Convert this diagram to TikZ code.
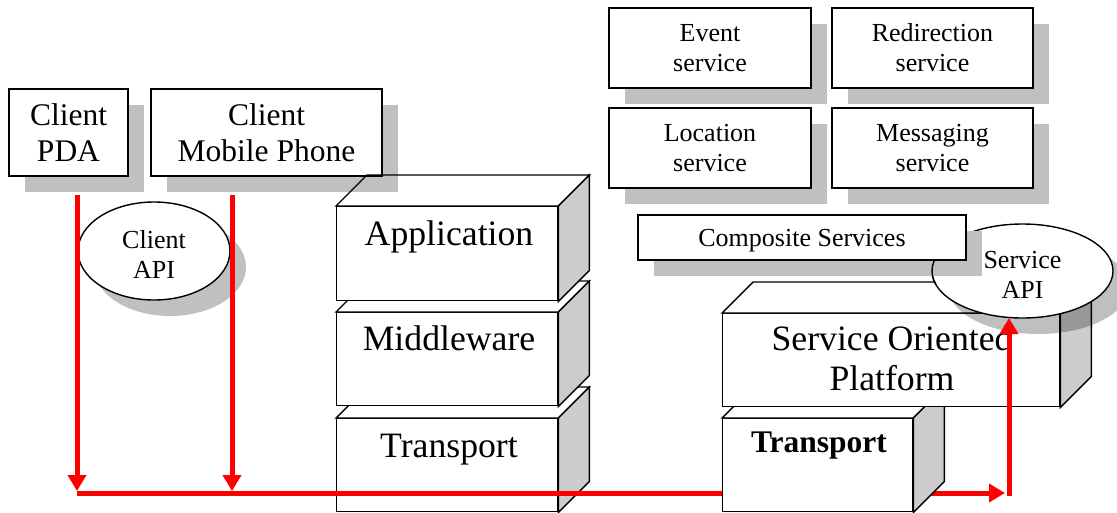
\documentclass[tikz,border=0pt]{standalone}
\usepackage{fontspec}
\setmainfont{Liberation Serif}
\usetikzlibrary{shapes.geometric, shadows, arrows.meta}

\definecolor{shadowgrey}{RGB}{192,192,192}
\definecolor{sidegrey}{RGB}{204,204,204}
\definecolor{linkred}{RGB}{255,0,0}

\newcommand\sizeL{\fontsize{35.7}{40}\selectfont}
\newcommand\sizeM{\fontsize{31.5}{36}\selectfont}
\newcommand\sizeS{\fontsize{26}{30}\selectfont}

% top and right faces of a block whose front face is node #1, depth #2
\newcommand\blockfaces[3]{%
  \draw[edge, fill=#3] (#1.north west) -- ++(#2,-#2) -- ([shift={(#2,-#2)}]#1.north east) -- (#1.north east) -- cycle;
  \draw[edge, fill=sidegrey] (#1.north east) -- ++(#2,-#2) -- ([shift={(#2,-#2)}]#1.south east) -- (#1.south east) -- cycle;}

\tikzset{
  edge/.style={draw=black, line width=1.4pt},
  castshadow/.style={drop shadow={shadow xshift=16pt, shadow yshift=-16pt, fill=shadowgrey, opacity=1}},
  box/.style={edge, fill=white, inner sep=0pt, align=center, castshadow},
  bubble/.style={ellipse, edge, fill=white, inner sep=0pt, align=center},
  front/.style={edge, fill=white, inner sep=0pt, anchor=north west},
  flow/.style={draw=linkred, line width=5pt, -{Triangle[length=16pt, width=18pt]}},
}

\begin{document}
\begin{tikzpicture}[x=1pt, y=-1pt]
\useasboundingbox (0,0) rectangle (1117,512);

% ---- client side ----
\node[bubble, castshadow, minimum width=152pt, minimum height=98pt, font=\sizeS] (capi) at (154,251) {\rule{0pt}{24pt}Client\\API};
\node[box, minimum width=119pt, minimum height=87pt, font=\sizeM] (pda) at (68.5,132.5) {Client\\PDA};
\node[box, minimum width=231pt, minimum height=87pt, font=\sizeM] (phone) at (266.5,132.5) {Client\\Mobile Phone};

% ---- layered stack ----
\node[front, minimum width=221pt, minimum height=93pt] (tra) at (336,418) {};
\blockfaces{tra}{31}{white}
\node[front, minimum width=221pt, minimum height=93pt] (mid) at (336,312) {};
\blockfaces{mid}{31}{white}
\node[front, minimum width=221pt, minimum height=94pt] (app) at (336,206) {};
\blockfaces{app}{31}{none}
\node[anchor=base, font=\sizeL] (appT) at (449,245) {Application};
\node[anchor=base, font=\sizeL] (midT) at (449,350) {Middleware};
\node[anchor=base, font=\sizeL] (traT) at (449,457) {Transport};

% ---- basic services ----
\node[box, minimum width=202pt, minimum height=80pt, font=\sizeS] (evt) at (710,48) {Event\\service};
\node[box, minimum width=201pt, minimum height=80pt, font=\sizeS] (redir) at (932.5,48) {Redirection\\service};
\node[box, minimum width=202pt, minimum height=80pt, font=\sizeS] (loc) at (710,148) {Location\\service};
\node[box, minimum width=201pt, minimum height=80pt, font=\sizeS] (msg) at (932.5,148) {Messaging\\service};

% ---- message paths ----
\coordinate (pdaDrop) at (77,195);
\coordinate (pdaLand) at (77,491);
\coordinate (phoneDrop) at (232,195);
\coordinate (phoneLand) at (232,491);
\coordinate (busStart) at (77,493);
\coordinate (busEnd) at (1005,493);
\coordinate (riseFoot) at (1009,495.5);
\coordinate (riseTop) at (1009,318);
\draw[flow] (pdaDrop) -- (pdaLand);
\draw[flow] (phoneDrop) -- (phoneLand);
\draw[flow] (busStart) -- (busEnd);

% ---- platform side ----
\node[front, minimum width=190pt, minimum height=93pt] (ttra) at (722,418) {};
\blockfaces{ttra}{31}{white}
\node[anchor=base, font=\sizeM\bfseries] (ttraT) at (819,452) {Transport};

\node[front, minimum width=337pt, minimum height=93pt] (sop) at (722,313) {};
\blockfaces{sop}{31}{white}
\node[font=\sizeL, align=center, inner sep=0pt] (sopT) at (892,357.8) {Service Oriented\\Platform};

\node[bubble, drop shadow={shadow xshift=16pt, shadow yshift=-16pt, fill=black, opacity=0.25},
      minimum width=181pt, minimum height=94pt, font=\sizeS] (sapi) at (1022.5,271) {\rule{0pt}{24pt}Service\\API};

\node[box, minimum width=328pt, minimum height=45pt, font=\sizeS, text depth=0pt] (comp) at (802,237.5) {Composite Services};
\begin{scope}
  \clip (comp.south west) rectangle ([shift={(24,24)}]comp.south east);
  \draw[edge] (sapi.center) ellipse [x radius=90.5, y radius=47];
\end{scope}

\draw[flow] (riseFoot) -- (riseTop);
\end{tikzpicture}
\end{document}
